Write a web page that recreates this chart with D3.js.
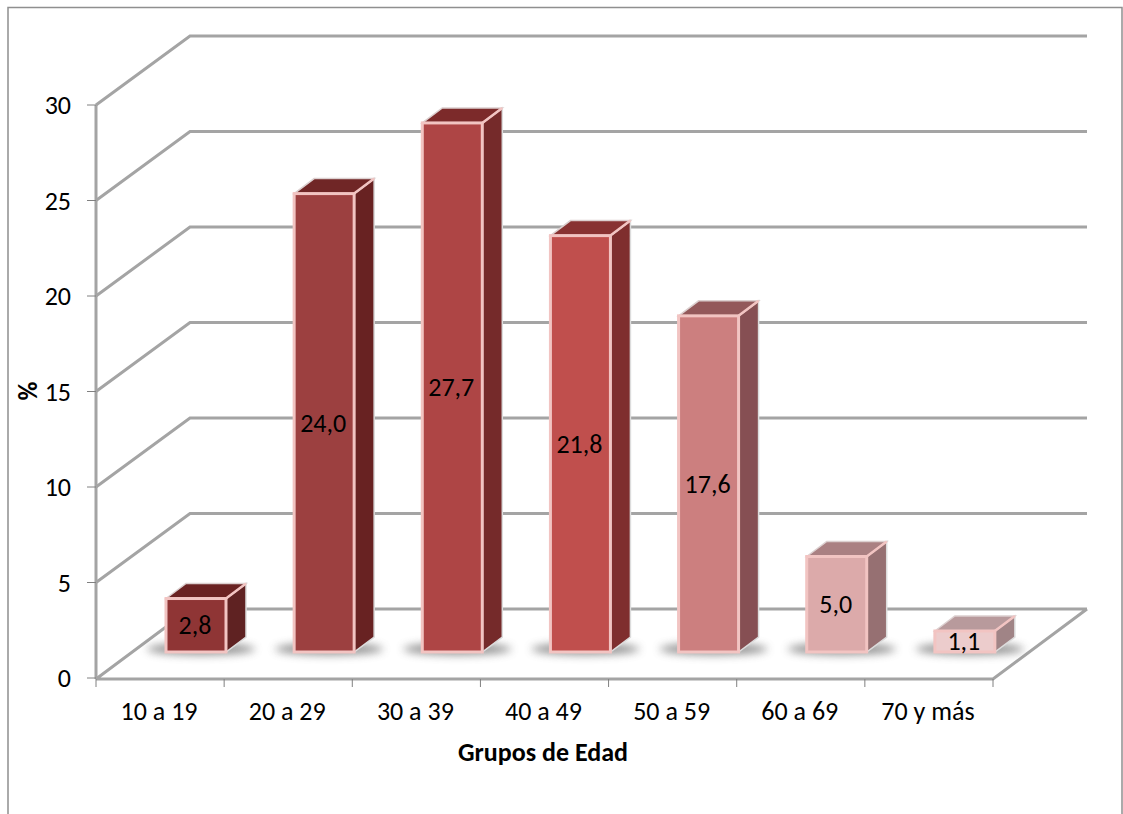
<!DOCTYPE html>
<html><head><meta charset="utf-8">
<script src="https://cdn.jsdelivr.net/npm/d3@7"></script>
<style>html,body{margin:0;background:#fff}svg{display:block}text{font-family:Carlito,Calibri,"Open Sans","Noto Sans",sans-serif;fill:#000}</style>
</head><body><svg id="c" width="1123" height="814"></svg>
<script>
const categories=["10 a 19","20 a 29","30 a 39","40 a 49","50 a 59","60 a 69","70 y más"];
const values=[2.8,24.0,27.7,21.8,17.6,5.0,1.1];
const labels=["2,8","24,0","27,7","21,8","17,6","5,0","1,1"];
const yTicks=[0,5,10,15,20,25,30];
const frontColors=["#8f3535","#9c3f3f","#ae4544","#c0504d","#cc7f7f","#dcaaaa","#eccccc"];
const topColors=["#6a2424","#702626","#7c2c2c","#883231","#93595a","#aa8082","#b89a9c"];
const sideColors=["#5e2020","#672424","#752a2a","#7f2f2e","#865052","#967072","#a08486"];

const W=1123,H=814,svg=d3.select("#c");
const x=d3.scaleBand().domain(categories).range([96,993]).padding(0);
const y=d3.scaleLinear().domain([0,30]).range([678,105]);
const depth={dx:94,dy:-69}, barDepth={dx:20,dy:-15}, barBase=-26, barOff=70, barW=60;

const defs=svg.append("defs");
defs.append("filter").attr("id","blur").attr("x","-40%").attr("y","-200%").attr("width","180%").attr("height","500%")
  .append("feGaussianBlur").attr("stdDeviation",4);
defs.append("filter").attr("id","soft").attr("filterUnits","userSpaceOnUse").attr("x",0).attr("y",0).attr("width",W).attr("height",H)
  .append("feGaussianBlur").attr("stdDeviation",0.7);

// frame
svg.append("path").attr("d",`M8 814V7.5H1122V814`).attr("fill","none").attr("stroke","#8f8f8f").attr("stroke-width",1.5);

const grid="#a4a4a4";
const g=svg.append("g").attr("filter","url(#soft)");
// gridlines
yTicks.forEach(t=>{
  if(t===0)return;
  g.append("path").attr("fill","none").attr("stroke",grid).attr("stroke-width",3)
   .attr("d",`M96 ${y(t)}L${96+depth.dx} ${y(t)+depth.dy}H1087`);
});
// floor
g.append("path").attr("fill","none").attr("stroke",grid).attr("stroke-width",3)
 .attr("d",`M96 ${y(0)+1}H993L1087 ${y(0)+depth.dy}M96 ${y(0)+1}L${96+depth.dx} ${y(0)+depth.dy}H1087`);
// y axis
g.append("path").attr("fill","none").attr("stroke",grid).attr("stroke-width",3).attr("d",`M96 ${y(30)}V${y(0)+1}`);
// ticks
yTicks.forEach(t=>svg.append("line").attr("x1",87).attr("x2",96).attr("y1",y(t)).attr("y2",y(t)).attr("stroke","#808080"));
[...categories.map(c=>x(c)),993].forEach(p=>svg.append("line").attr("x1",p).attr("x2",p).attr("y1",679).attr("y2",687).attr("stroke","#808080"));
// bars
values.forEach((v,i)=>{
  const c=categories[i], x0=x(c)+barOff, x1=x0+barW, b=y(0)+barBase, t=b-(y(0)-y(v)), dx=barDepth.dx, dy=barDepth.dy;
  svg.append("ellipse").attr("cx",x0+barW/2+5).attr("cy",b-3).attr("rx",barW/2+24).attr("ry",6).attr("fill","#6e6e6e").attr("opacity",.75).attr("filter","url(#blur)");
  const bar=svg.append("g").attr("filter","url(#soft)");
  const edge="#f2c4c2";
  bar.append("path").attr("d",`M${x1} ${t}L${x1+dx} ${t+dy}V${b+dy}L${x1} ${b}Z`).attr("fill",sideColors[i]).attr("stroke","#dcdcdc").attr("stroke-width",1.5);
  bar.append("path").attr("d",`M${x0} ${t}L${x0+dx} ${t+dy}H${x1+dx}L${x1} ${t}Z`).attr("fill",topColors[i]).attr("stroke","#dcd0d0").attr("stroke-width",1.5);
  bar.append("path").attr("d",`M${x1} ${t}L${x1+dx} ${t+dy}`).attr("fill","none").attr("stroke",edge).attr("stroke-width",2.5);
  bar.append("rect").attr("x",x0).attr("y",t).attr("width",barW).attr("height",b-t).attr("fill",frontColors[i]).attr("stroke",edge).attr("stroke-width",3);
  svg.append("text").attr("x",x0+barW/2-1).attr("y",(t+b)/2+9).attr("text-anchor","middle").attr("font-size",26).text(labels[i]);
});
// axis labels
yTicks.forEach(t=>svg.append("text").attr("x",71).attr("y",y(t)+9).attr("text-anchor","end").attr("font-size",26).text(t));
categories.forEach(c=>svg.append("text").attr("x",x(c)+x.bandwidth()/2-1).attr("y",720).attr("text-anchor","middle").attr("font-size",26).text(c));
svg.append("text").attr("x",543).attr("y",761).attr("text-anchor","middle").attr("font-size",26).attr("font-weight","bold").text("Grupos de Edad");
svg.append("text").attr("transform","translate(37,391) rotate(-90)").attr("text-anchor","middle").attr("font-size",26).attr("font-weight","bold").text("%");
</script></body></html>
